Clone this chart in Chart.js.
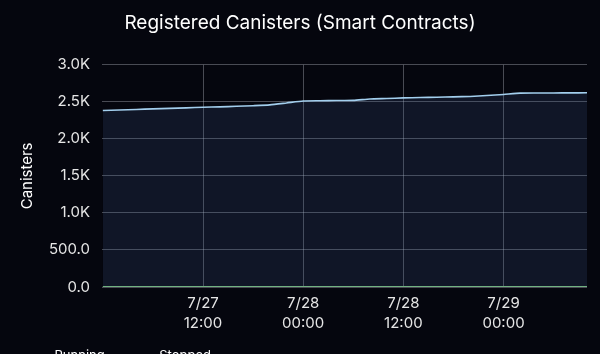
<!DOCTYPE html>
<html>
<head>
<meta charset="utf-8">
<script src="https://cdn.jsdelivr.net/npm/chart.js"></script>
<style>
  html, body { margin: 0; padding: 0; background: #05060e; overflow: hidden; }
  #wrap { width: 600px; height: 373px; }
</style>
</head>
<body>
<div id="wrap"><canvas id="grafico"></canvas></div>
<script>
// hours since 7/27 00:00
const horas = [0, 2, 4, 6, 8, 10, 12, 14, 16, 18, 20, 22, 24, 26, 28, 30, 32, 34, 36, 38, 40, 42, 44, 46, 48, 50, 52, 54, 56, 58];
const running = [2383, 2390, 2397, 2405, 2412, 2419, 2427, 2432, 2440, 2448, 2459, 2485, 2512, 2515, 2517, 2520, 2538, 2545, 2553, 2558, 2562, 2567, 2573, 2585, 2600, 2617, 2619, 2620, 2621, 2622];
const stopped = [0, 0, 0, 0, 0, 0, 0, 0, 0, 0, 0, 0, 0, 0, 0, 0, 0, 0, 0, 0, 0, 0, 0, 0, 0, 0, 0, 0, 0, 0];
const tickHoras = [12, 24, 36, 48];
const tickLabels = [['7/27', '12:00'], ['7/28', '00:00'], ['7/28', '12:00'], ['7/29', '00:00']];
const yTicks = [0, 500, 1000, 1500, 2000, 2500, 3000];
const yLabels = ['0.0', '500.0', '1.0K', '1.5K', '2.0K', '2.5K', '3.0K'];

const fuente = 'Inter, "Noto Sans", sans-serif';

new Chart(document.getElementById('grafico'), {
    type: 'line',
    data: {
        datasets: [{
            label: 'Running',
            data: horas.map((h, i) => ({ x: h, y: running[i] })),
            borderColor: '#a3cfee',
            borderWidth: 1.6,
            backgroundColor: 'rgba(60, 90, 140, 0.2)',
            fill: 'origin',
            pointRadius: 0,
            tension: 0.2
        }, {
            label: 'Stopped',
            data: horas.map((h, i) => ({ x: h, y: stopped[i] })),
            borderColor: '#7fc97f',
            backgroundColor: '#7fc97f',
            borderWidth: 2,
            pointRadius: 0
        }]
    },
    options: {
        responsive: true,
        maintainAspectRatio: false,
        animation: false,
        layout: { padding: 0 },
        plugins: {
            title: {
                display: true,
                text: 'Registered Canisters (Smart Contracts)',
                color: '#ffffff',
                font: { family: fuente, size: 19, weight: 'normal' },
                padding: { top: 12, bottom: 30 }
            },
            legend: {
                position: 'bottom',
                align: 'start',
                labels: {
                    color: '#ffffff',
                    font: { family: fuente, size: 13 },
                    boxWidth: 38,
                    boxHeight: 2,
                    padding: 10
                }
            },
            tooltip: { enabled: false }
        },
        scales: {
            x: {
                type: 'linear',
                min: -0.1,
                max: 58,
                afterBuildTicks: (scale) => {
                    scale.ticks = tickHoras.map(v => ({ value: v }));
                },
                afterFit: (scale) => { scale.height = 53; },
                ticks: {
                    color: '#e6e6e6',
                    font: { family: fuente, size: 15, lineHeight: 1.35 },
                    padding: 6,
                    maxRotation: 0,
                    callback: (v) => tickLabels[tickHoras.indexOf(v)]
                },
                grid: { color: 'rgba(200, 205, 215, 0.35)', drawTicks: false },
                border: { display: false }
            },
            y: {
                min: 0,
                max: 3000,
                afterBuildTicks: (scale) => {
                    scale.ticks = yTicks.map(v => ({ value: v }));
                },
                afterFit: (scale) => { scale.width = 102; },
                ticks: {
                    color: '#e6e6e6',
                    font: { family: fuente, size: 15 },
                    padding: 12,
                    callback: (v) => yLabels[yTicks.indexOf(v)]
                },
                title: {
                    display: true,
                    text: 'Canisters',
                    color: '#ffffff',
                    font: { family: fuente, size: 15 },
                    padding: { top: 18, bottom: 0 }
                },
                grid: { color: 'rgba(200, 205, 215, 0.35)', drawTicks: false },
                border: { display: false }
            },
            // empty right margin so the title stays centred on the page
            derecha: {
                position: 'right',
                min: 0,
                max: 3000,
                afterFit: (scale) => { scale.width = 13; },
                ticks: { display: false },
                grid: { display: false },
                border: { display: false }
            }
        }
    }
});
</script>
</body>
</html>
